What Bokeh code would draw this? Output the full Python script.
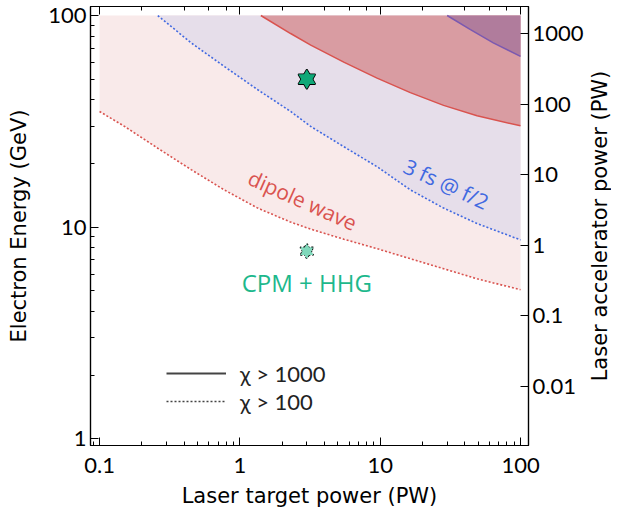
import math
from bokeh.plotting import figure
from bokeh.models import (Range1d, LogScale, LogAxis, LogTicker, FixedTicker,
                          CustomJSTickFormatter, Legend, LegendItem, Label, ColumnDataSource)
from bokeh.embed import file_html
from bokeh.resources import INLINE

# ---- data (laser target power in PW, electron energy in GeV) ----
dipole_chi100_power = [0.1, 0.151, 0.26, 0.449, 0.773, 1.34, 2.3, 3.2, 5.5, 9.5, 16.4, 28.3, 49, 100]
dipole_chi100_energy = [35.2, 29.9, 23.6, 18.7, 15.0, 12.3, 10.56, 9.78, 8.77, 7.91, 7.09, 6.36, 5.70, 5.06]

f2_chi100_power = [0.26, 0.449, 0.773, 1.34, 2.3, 3.2, 5.5, 9.5, 16.4, 28.3, 49, 100]
f2_chi100_energy = [100, 74.3, 57.5, 44.6, 35.2, 29.9, 24.0, 19.3, 15.0, 12.3, 10.4, 8.7]

dipole_chi1000_power = [1.41, 2.3, 3.2, 5.5, 9.5, 16.4, 28.3, 49, 100]
dipole_chi1000_energy = [100, 82.2, 72.5, 60.2, 50.6, 43.2, 37.6, 33.6, 30.1]

f2_chi1000_power = [30, 44, 64, 100]
f2_chi1000_energy = [100, 85.8, 74.3, 64.1]

region_top_energy = 100

star_power = [3.0, 3.0]
star_energy = [50.0, 7.7]

acc_ticks = [0.01, 0.1, 1, 10, 100, 1000]
acc_per_gev3 = 0.0018  # accelerator power scale relative to E^3

labels = [
    # text, x, y, angle(deg), color, size
    ("dipole wave", 2.8, 13.4, -24, "#d9534f", "21px"),
    ("3 fs @ f/2", 29.6, 16.0, -25, "#4169e1", "21px"),
    ("CPM + HHG", 3.0, 5.48, 0, "#1db88c", "24px"),
]

# right-hand axis title anchor (data coordinates, lies in the right border)
right_title = ("Laser accelerator power (PW)", 366, 10.12)

TITLE_FONT = "DejaVu Sans"
TITLE_SIZE = "21px"
RED = "#d9534f"
BLUE = "#4169e1"
PURPLE = "#7b59b0"
NAN = float("nan")

y_lo, y_hi = 0.929, 110.3
p = figure(width=611, height=510, x_axis_type="log", y_axis_type="log",
           x_range=Range1d(0.0862, 114), y_range=Range1d(y_lo, y_hi),
           output_backend="svg", toolbar_location=None,
           min_border_left=90, min_border_right=83, min_border_top=6, min_border_bottom=65)
p.grid.visible = False
p.outline_line_color = "black"
p.outline_line_width = 1.2
p.background_fill_color = "white"

fmt = CustomJSTickFormatter(code="return tick < 1 ? tick.toPrecision(1) : tick.toFixed(0);")


def style(ax, minor=True):
    ax.axis_line_color = "black"
    ax.axis_line_width = 1.2
    ax.major_tick_in = 8
    ax.major_tick_out = 0
    ax.minor_tick_in = 4 if minor else 0
    ax.minor_tick_out = 0
    ax.major_tick_line_color = "black"
    ax.minor_tick_line_color = "black"
    ax.major_label_text_font = "Lato"
    ax.major_label_text_font_size = "22px"
    ax.major_label_text_color = "black"
    ax.axis_label_text_font = TITLE_FONT
    ax.axis_label_text_font_size = TITLE_SIZE
    ax.axis_label_text_font_style = "normal"
    ax.axis_label_text_color = "black"
    ax.formatter = fmt


bx = p.below[0]
ly = p.left[0]
style(bx)
style(ly)
bx.axis_label = "Laser target power (PW)"
bx.major_label_standoff = 12
bx.axis_label_standoff = 8
ly.axis_label = "Electron Energy (GeV)"
ly.major_label_standoff = 4
ly.axis_label_standoff = 14

top = LogAxis(ticker=LogTicker())
style(top)
top.formatter = CustomJSTickFormatter(code="return '';")
top.major_label_standoff = 0
p.add_layout(top, "above")

p.extra_y_ranges = {"acc": Range1d(acc_per_gev3 * y_lo ** 3, acc_per_gev3 * y_hi ** 3)}
p.extra_y_scales = {"acc": LogScale()}
right = LogAxis(y_range_name="acc", ticker=FixedTicker(ticks=acc_ticks))
style(right, minor=False)
right.major_label_standoff = 4
p.add_layout(right, "right")

p.add_layout(Label(x=right_title[1], y=right_title[2], text=right_title[0], angle=90,
                   angle_units="deg", text_align="center", text_baseline="middle",
                   text_font=TITLE_FONT, text_font_size=TITLE_SIZE, text_color="black"), "right")

# ---- filled regions ----
p.varea(x=dipole_chi100_power, y1=dipole_chi100_energy,
        y2=[region_top_energy] * len(dipole_chi100_power), fill_color="#f9eaea")
p.varea(x=f2_chi100_power, y1=f2_chi100_energy,
        y2=[region_top_energy] * len(f2_chi100_power), fill_color="#e6deea")
p.varea(x=dipole_chi1000_power, y1=dipole_chi1000_energy,
        y2=[region_top_energy] * len(dipole_chi1000_power), fill_color="#d99ca2")
p.varea(x=f2_chi1000_power, y1=f2_chi1000_energy,
        y2=[region_top_energy] * len(f2_chi1000_power), fill_color="#b07c9c")

# ---- boundary lines ----
p.line(dipole_chi100_power, dipole_chi100_energy, line_color=RED, line_width=1.6, line_dash="2 2")
p.line(f2_chi100_power, f2_chi100_energy, line_color=BLUE, line_width=1.6, line_dash="2 2")
p.line(dipole_chi1000_power, dipole_chi1000_energy, line_color=RED, line_width=1.5)
p.line(f2_chi1000_power, f2_chi1000_energy, line_color=PURPLE, line_width=1.5)

# ---- stars (hexagram from two triangles) ----
s1 = ColumnDataSource(dict(x=star_power[:1], y=star_energy[:1]))
s2 = ColumnDataSource(dict(x=star_power[1:], y=star_energy[1:]))
for src, size, fill, dash in [(s1, 17, "#10a878", "solid"), (s2, 13, "#80d8bb", "2 2")]:
    for m in ("triangle", "inverted_triangle"):
        p.scatter("x", "y", source=src, marker=m, size=size, fill_color=fill,
                  line_color="black", line_width=1.6, line_dash=dash)
    for m in ("triangle", "inverted_triangle"):
        p.scatter("x", "y", source=src, marker=m, size=size, fill_color=fill, line_color=None)

# ---- text labels ----
for txt, lx, lyv, ang, col, sz in labels:
    p.add_layout(Label(x=lx, y=lyv, text=txt, angle=ang, angle_units="deg",
                       text_align="center", text_baseline="middle",
                       text_font="Open Sans", text_font_size=sz, text_color=col))

# ---- legend (key-only renderers, no visible data) ----
r_solid = p.line(x=[NAN], y=[NAN], line_color="#444444", line_width=2)
r_dot = p.line(x=[NAN], y=[NAN], line_color="#444444", line_width=1.5, line_dash="2 2")
legend = Legend(items=[LegendItem(label="χ > 1000", renderers=[r_solid]),
                       LegendItem(label="χ > 100", renderers=[r_dot])],
                location=(76, 30), glyph_width=60, glyph_height=28, label_height=28,
                spacing=0, padding=0, margin=0, label_standoff=14,
                label_text_font="Lato", label_text_font_size="22px", label_text_color="#222222",
                border_line_color=None, background_fill_alpha=0)
p.add_layout(legend)

open("out.html", "w").write(file_html(p, INLINE))
